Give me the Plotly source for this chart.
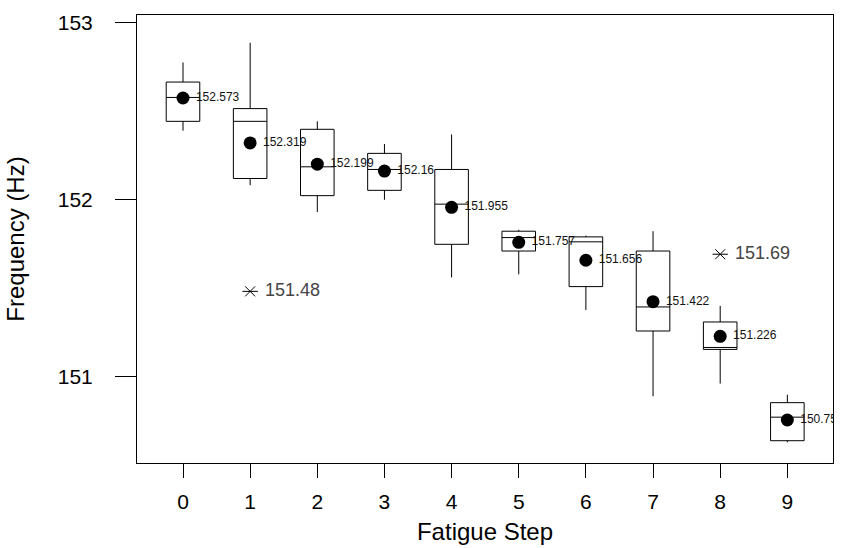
import plotly.graph_objects as go

# ---- data ----
steps = [0, 1, 2, 3, 4, 5, 6, 7, 8, 9]
q1 = [152.441, 152.118, 152.021, 152.051, 151.746, 151.708, 151.507, 151.256, 151.152, 150.636]
median = [152.576, 152.441, 152.184, 152.169, 151.973, 151.784, 151.760, 151.392, 151.163, 150.769]
q3 = [152.663, 152.513, 152.396, 152.260, 152.169, 151.820, 151.788, 151.708, 151.307, 150.851]
lower_whisker = [152.388, 152.080, 151.928, 151.998, 151.559, 151.576, 151.375, 150.887, 150.959, 150.627]
upper_whisker = [152.774, 152.885, 152.441, 152.313, 152.367, 151.828, 151.795, 151.820, 151.398, 150.896]
means = [152.573, 152.319, 152.199, 152.16, 151.955, 151.757, 151.656, 151.422, 151.226, 150.753]
mean_labels = ["152.573", "152.319", "152.199", "152.16", "151.955", "151.757",
               "151.656", "151.422", "151.226", "150.753"]
outlier_steps = [1, 8]
outlier_values = [151.48, 151.69]
outlier_labels = ["151.48", "151.69"]

FONT = "Liberation Sans, Arial, sans-serif"

fig = go.Figure()

fig.add_trace(go.Box(
    x=steps, q1=q1, median=median, q3=q3,
    lowerfence=lower_whisker, upperfence=upper_whisker,
    width=0.5, whiskerwidth=0,
    fillcolor="white", line=dict(color="black", width=1),
    boxpoints=False, hoverinfo="skip", showlegend=False,
))

# mean dots
fig.add_trace(go.Scatter(
    x=steps, y=means, mode="markers",
    marker=dict(color="black", size=13, symbol="circle"),
    cliponaxis=True, showlegend=False, hoverinfo="skip",
))
# mean labels (invisible larger marker for offset, clipped to plot area)
fig.add_trace(go.Scatter(
    x=steps, y=means, mode="markers+text",
    text=mean_labels, textposition="middle right",
    textfont=dict(family=FONT, size=12, color="#111"),
    marker=dict(color="rgba(0,0,0,0)", size=19),
    cliponaxis=True, showlegend=False, hoverinfo="skip",
))

# outliers (asterisk-like: horizontal line + thin x)
fig.add_trace(go.Scatter(
    x=outlier_steps, y=outlier_values, mode="markers",
    marker=dict(symbol="line-ew-open", size=11, color="black", line=dict(color="black", width=1)),
    showlegend=False, hoverinfo="skip",
))
fig.add_trace(go.Scatter(
    x=outlier_steps, y=outlier_values, mode="markers",
    marker=dict(symbol="x-thin-open", size=10, color="black", line=dict(color="black", width=1)),
    showlegend=False, hoverinfo="skip",
))
fig.add_trace(go.Scatter(
    x=outlier_steps, y=outlier_values, mode="markers+text",
    text=outlier_labels, textposition="middle right",
    textfont=dict(family=FONT, size=18, color="#444"),
    marker=dict(color="rgba(0,0,0,0)", size=22),
    showlegend=False, hoverinfo="skip",
))

fig.update_layout(
    width=841, height=548,
    margin=dict(l=137, r=8, t=15, b=85),
    paper_bgcolor="white", plot_bgcolor="white",
    font=dict(family=FONT, color="black"),
)

fig.update_xaxes(
    range=[-0.685, 9.68], tickvals=steps, ticktext=[str(s) for s in steps],
    showgrid=False, zeroline=False, automargin=False,
    showline=True, mirror=True, linecolor="black", linewidth=1,
    ticks="outside", ticklen=14, tickcolor="black", tickwidth=1,
    tickfont=dict(family=FONT, size=21, color="black"),
    ticklabelstandoff=6,
    title=dict(text="Fatigue Step", font=dict(family=FONT, size=24, color="black"), standoff=10),
)
fig.update_yaxes(
    range=[150.510, 153.042], tickvals=[151, 152, 153],
    showgrid=False, zeroline=False, automargin=False,
    showline=True, mirror=True, linecolor="black", linewidth=1,
    ticks="outside", ticklen=21, tickcolor="black", tickwidth=1,
    tickfont=dict(family=FONT, size=21, color="black"),
    ticklabelstandoff=18,
    title=dict(text="Frequency (Hz)", font=dict(family=FONT, size=24, color="black"), standoff=26),
)

fig.write_html("out.html", config={"displayModeBar": False},
               post_script="document.body.style.margin='0';")
